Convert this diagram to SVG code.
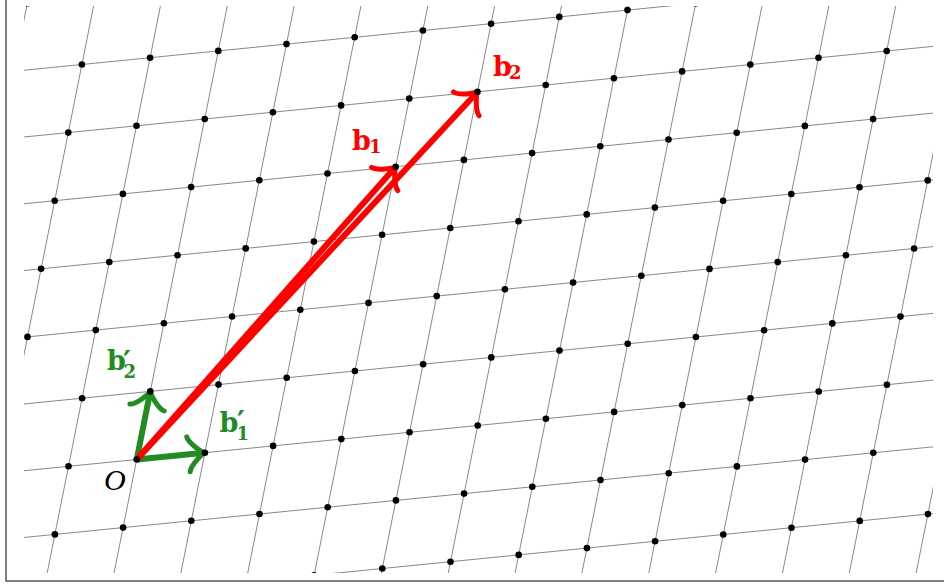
<svg xmlns="http://www.w3.org/2000/svg" width="944" height="585" viewBox="0 0 944 585">
<style>
.grid{stroke:#7a7a7a;stroke-width:0.9;fill:none}
.dot{fill:#000}
.vec{fill:none;stroke-width:6;stroke-linecap:butt}
.red{stroke:#ff0000}
.green{stroke:#228b22}
.head{fill:none;stroke-width:5;stroke-linecap:round;stroke-linejoin:round}
.lb{font-family:"DejaVu Serif","Liberation Serif",serif;font-weight:bold}
.big{font-size:27px}
.sub{font-size:18px}
.pr{font-family:"DejaVu Sans","Liberation Sans",sans-serif;font-size:30px;font-weight:bold}
.rt{fill:#ff0000}
.gt{fill:#228b22}
.frame{fill:none;stroke:#555;stroke-width:1.5}
</style>
<defs>
<clipPath id="clip"><rect x="24" y="6" width="909" height="567"/></clipPath>
<line id="rowline" class="grid" x1="-341" y1="34" x2="1091.2" y2="-108.8"/>
<line id="colline" class="grid" x1="-54.4" y1="272.4" x2="136" y2="-681"/>
<g id="dotrow" class="dot">
<circle cx="-272.8" cy="27.2" r="3.3"/>
<circle cx="-204.6" cy="20.4" r="3.3"/>
<circle cx="-136.4" cy="13.6" r="3.3"/>
<circle cx="-68.2" cy="6.8" r="3.3"/>
<circle cx="0" cy="0" r="3.3"/>
<circle cx="68.2" cy="-6.8" r="3.3"/>
<circle cx="136.4" cy="-13.6" r="3.3"/>
<circle cx="204.6" cy="-20.4" r="3.3"/>
<circle cx="272.8" cy="-27.2" r="3.3"/>
<circle cx="341" cy="-34" r="3.3"/>
<circle cx="409.2" cy="-40.8" r="3.3"/>
<circle cx="477.4" cy="-47.6" r="3.3"/>
<circle cx="545.6" cy="-54.4" r="3.3"/>
<circle cx="613.8" cy="-61.2" r="3.3"/>
<circle cx="682" cy="-68" r="3.3"/>
<circle cx="750.2" cy="-74.8" r="3.3"/>
<circle cx="818.4" cy="-81.6" r="3.3"/>
<circle cx="886.6" cy="-88.4" r="3.3"/>
<circle cx="954.8" cy="-95.2" r="3.3"/>
</g>
<marker id="toR" markerUnits="userSpaceOnUse" orient="auto" refX="-3" refY="0" markerWidth="40" markerHeight="40" overflow="visible">
<path class="head red" d="M-16.5,-17.5 C-15.4,-11 -3.3,-1.1 0,0 C-3.3,1.1 -15.4,11 -16.5,17.5"/>
</marker>
<marker id="toG" markerUnits="userSpaceOnUse" orient="auto" refX="-3" refY="0" markerWidth="40" markerHeight="40" overflow="visible">
<path class="head green" d="M-16.5,-17.5 C-15.4,-11 -3.3,-1.1 0,0 C-3.3,1.1 -15.4,11 -16.5,17.5"/>
</marker>
</defs>

<rect class="frame" x="6" y="-5" width="945" height="586"/>

<g id="lattice-grid" clip-path="url(#clip)">
<use href="#rowline" x="109.5" y="595.7"/>
<use href="#rowline" x="123.1" y="527.6"/>
<use href="#rowline" x="136.7" y="459.5"/>
<use href="#rowline" x="150.3" y="391.4"/>
<use href="#rowline" x="163.9" y="323.3"/>
<use href="#rowline" x="177.5" y="255.2"/>
<use href="#rowline" x="191.1" y="187.1"/>
<use href="#rowline" x="204.7" y="119"/>
<use href="#rowline" x="218.3" y="50.9"/>
<use href="#rowline" x="231.9" y="-17.2"/>
<use href="#colline" x="-67.9" y="479.9"/>
<use href="#colline" x="0.3" y="473.1"/>
<use href="#colline" x="68.5" y="466.3"/>
<use href="#colline" x="136.7" y="459.5"/>
<use href="#colline" x="204.9" y="452.7"/>
<use href="#colline" x="273.1" y="445.9"/>
<use href="#colline" x="341.3" y="439.1"/>
<use href="#colline" x="409.5" y="432.3"/>
<use href="#colline" x="477.7" y="425.5"/>
<use href="#colline" x="545.9" y="418.7"/>
<use href="#colline" x="614.1" y="411.9"/>
<use href="#colline" x="682.3" y="405.1"/>
<use href="#colline" x="750.5" y="398.3"/>
<use href="#colline" x="818.7" y="391.5"/>
<use href="#colline" x="886.9" y="384.7"/>
<use href="#colline" x="955.1" y="377.9"/>
</g>

<g id="connectors">
<line class="vec green" x1="136.7" y1="459.5" x2="201.9" y2="453" marker-end="url(#toG)"/>
<line class="vec green" x1="136.7" y1="459.5" x2="149.7" y2="394.3" marker-end="url(#toG)"/>
<line class="vec red" x1="136.7" y1="459.5" x2="393.7" y2="168.9" marker-end="url(#toR)"/>
<line class="vec red" x1="136.7" y1="459.5" x2="475.5" y2="94" marker-end="url(#toR)"/>
</g>

<g id="lattice-points" clip-path="url(#clip)">
<use href="#dotrow" x="109.5" y="595.7"/>
<use href="#dotrow" x="123.1" y="527.6"/>
<use href="#dotrow" x="136.7" y="459.5"/>
<use href="#dotrow" x="150.3" y="391.4"/>
<use href="#dotrow" x="163.9" y="323.3"/>
<use href="#dotrow" x="177.5" y="255.2"/>
<use href="#dotrow" x="191.1" y="187.1"/>
<use href="#dotrow" x="204.7" y="119"/>
<use href="#dotrow" x="218.3" y="50.9"/>
<use href="#dotrow" x="231.9" y="-17.2"/>
</g>

<g id="node-O">
<text x="104" y="490" font-family="'Liberation Serif',serif" font-style="italic" font-size="30" fill="#000">O</text>
</g>
<g id="label-b1">
<text class="lb rt"><tspan class="big" x="352" y="150">b</tspan><tspan class="sub" x="369" y="152.7">1</tspan></text>
</g>
<g id="label-b2">
<text class="lb rt"><tspan class="big" x="493" y="76">b</tspan><tspan class="sub" x="509" y="78.5">2</tspan></text>
</g>
<g id="label-b1p">
<text class="lb gt"><tspan class="big" x="219.5" y="431.7">b</tspan><tspan class="sub" x="236.5" y="440">1</tspan></text>
<text class="pr gt" x="237" y="432">′</text>
</g>
<g id="label-b2p">
<text class="lb gt"><tspan class="big" x="107" y="370">b</tspan><tspan class="sub" x="123.5" y="378.3">2</tspan></text>
<text class="pr gt" x="123" y="372">′</text>
</g>
</svg>
